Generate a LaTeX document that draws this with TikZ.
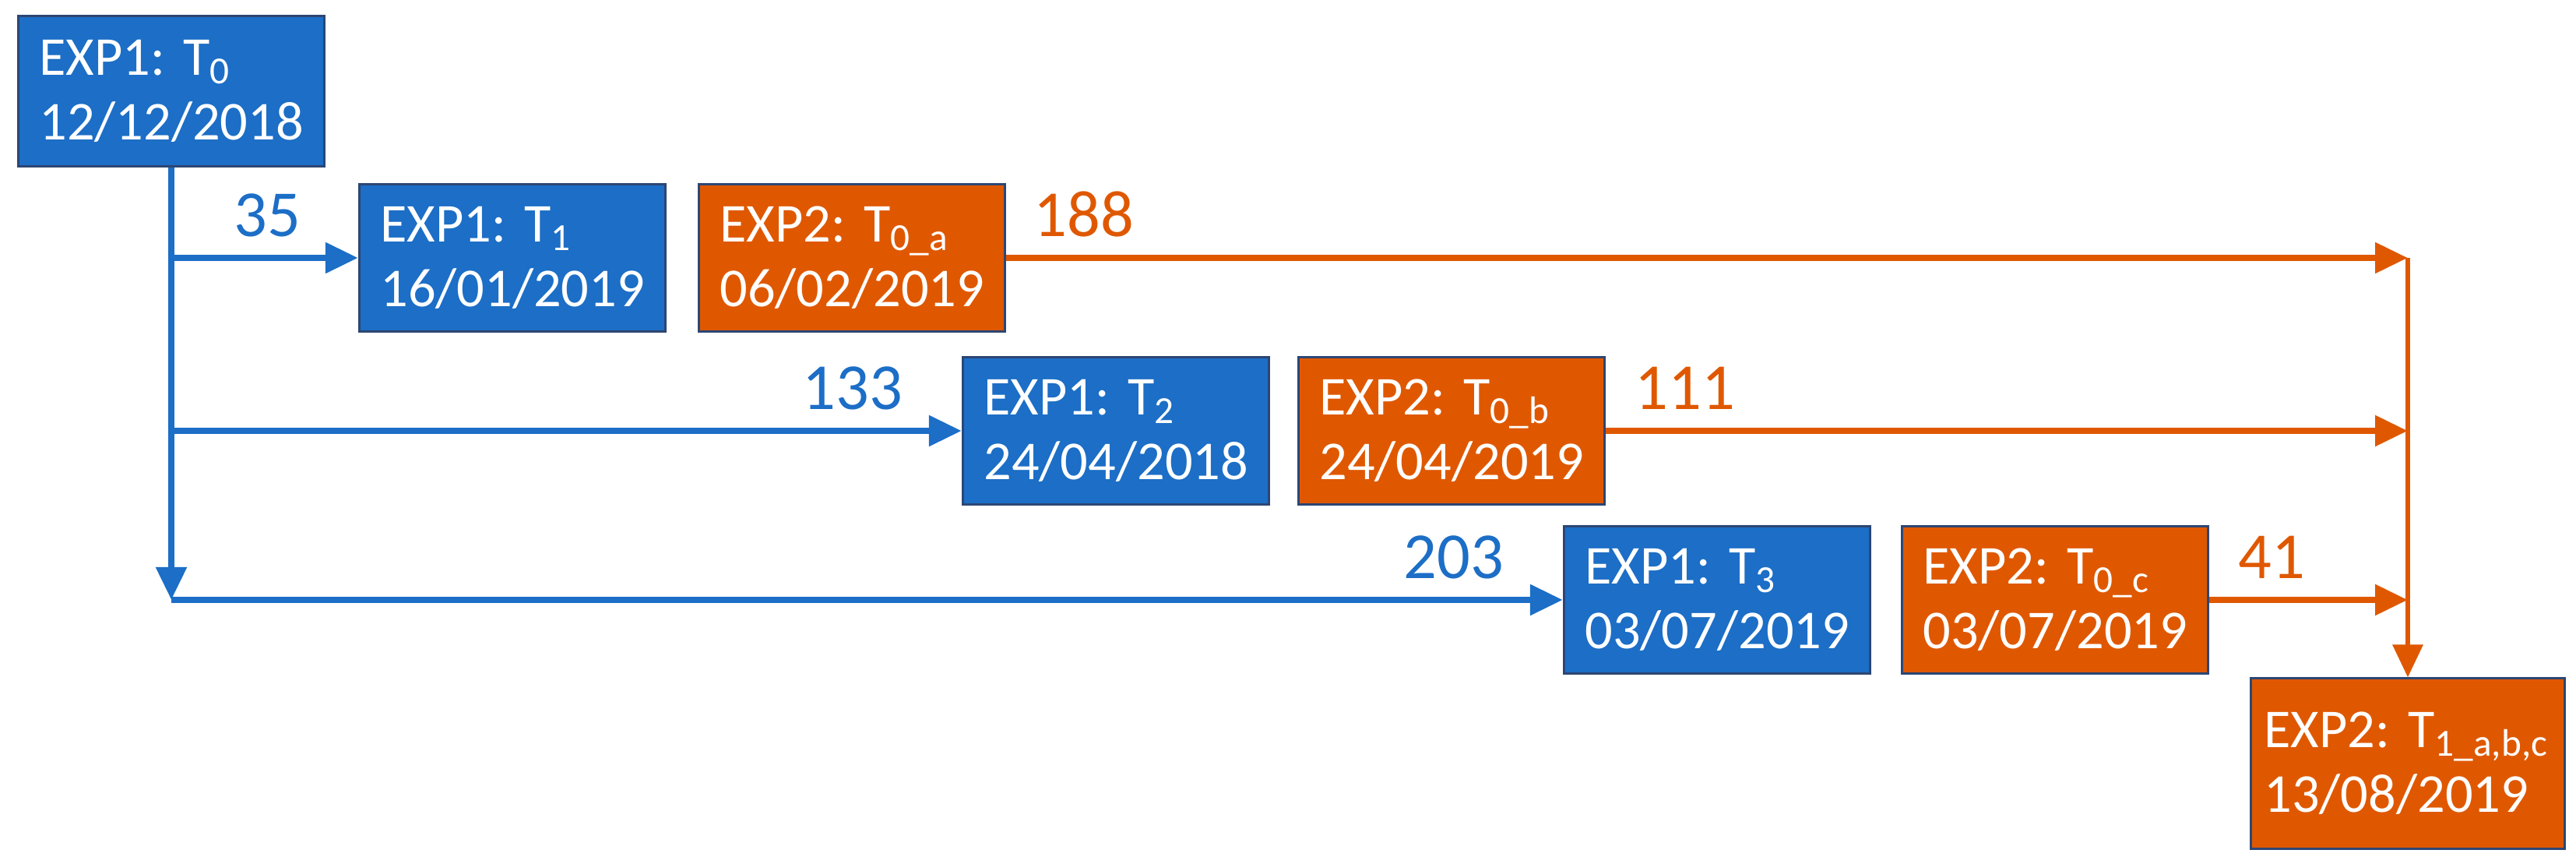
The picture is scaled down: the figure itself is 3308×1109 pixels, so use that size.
\documentclass[tikz,border=0pt]{standalone}
\usepackage{fontspec}
\setmainfont{Carlito}
\usetikzlibrary{arrows.meta}
\definecolor{eblue}{RGB}{28,110,198}
\definecolor{eorange}{RGB}{223,88,0}
\definecolor{eborder}{RGB}{45,70,115}
\frenchspacing
\begin{document}
\begin{tikzpicture}[x=0.01cm,y=-0.01cm,
  box/.style={rectangle, draw=eborder, line width=0.03cm, text=white,
    font=\fontsize{20}{23.6}\selectfont\frenchspacing, align=left, inner xsep=0.27cm,
    minimum height=1.88cm, text width=3.39cm},
  bbox/.style={box, fill=eblue},
  obox/.style={box, fill=eorange},
  barr/.style={draw=eblue, line width=0.085cm, -{Triangle[length=0.42cm,width=0.38cm]}},
  oarr/.style={draw=eorange, line width=0.085cm, -{Triangle[length=0.42cm,width=0.38cm]}},
  lbl/.style={font=\fontsize{24}{28}\selectfont, inner sep=0pt}]
\useasboundingbox (0,0) rectangle (3308,1109);

\node[bbox, minimum height=1.92cm] (t0) at (220,117) {EXP1: T\textsubscript{0}\\12/12/2018};
\node[bbox] (t1) at (658,331) {EXP1: T\textsubscript{1}\\16/01/2019};
\node[obox] (t0a) at (1094,331) {EXP2: T\textsubscript{0\_a}\\06/02/2019};
\node[bbox] (t2) at (1433,553) {EXP1: T\textsubscript{2}\\24/04/2018};
\node[obox] (t0b) at (1864,553) {EXP2: T\textsubscript{0\_b}\\24/04/2019};
\node[bbox] (t3) at (2205,770) {EXP1: T\textsubscript{3}\\03/07/2019};
\node[obox] (t0c) at (2639,770) {EXP2: T\textsubscript{0\_c}\\03/07/2019};
\node[obox, minimum height=2.18cm, inner xsep=0.17cm, text width=3.69cm] (t1abc) at (3092,980) {EXP2: T\textsubscript{1\_a,b,c}\\13/08/2019};

% blue connectors
\coordinate (v1) at (t0.south |- t1.west);
\coordinate (v2) at (t0.south |- t2.west);
\coordinate (v3) at (t0.south |- t3.west);
\draw[barr] (t0.south) -- (v3);
\draw[barr] (v1) -- (t1.west);
\draw[barr] (v2) -- (t2.west);
\draw[barr] (v3) -- (t3.west);

% orange connectors
\coordinate (o1) at (t1abc.north |- t0a.east);
\coordinate (o2) at (t1abc.north |- t0b.east);
\coordinate (o3) at (t1abc.north |- t0c.east);
\draw[oarr] (t0a.east) -- (o1);
\draw[oarr] (t0b.east) -- (o2);
\draw[oarr] (t0c.east) -- (o3);
\draw[oarr, line width=0.065cm] (o1) -- (t1abc.north);

% labels
\node[lbl, text=eblue, anchor=base east] (l35) at ([xshift=-0.73cm, yshift=0.27cm]t1.west) {35};
\node[lbl, text=eblue, anchor=base east] (l133) at ([xshift=-0.75cm, yshift=0.27cm]t2.west) {133};
\node[lbl, text=eblue, anchor=base east] (l203) at ([xshift=-0.75cm, yshift=0.27cm]t3.west) {203};
\node[lbl, text=eorange, anchor=base west] (l188) at ([xshift=0.35cm, yshift=0.27cm]t0a.east) {188};
\node[lbl, text=eorange, anchor=base west] (l111) at ([xshift=0.37cm, yshift=0.27cm]t0b.east) {111};
\node[lbl, text=eorange, anchor=base west] (l41) at ([xshift=0.37cm, yshift=0.27cm]t0c.east) {41};
\end{tikzpicture}
\end{document}
